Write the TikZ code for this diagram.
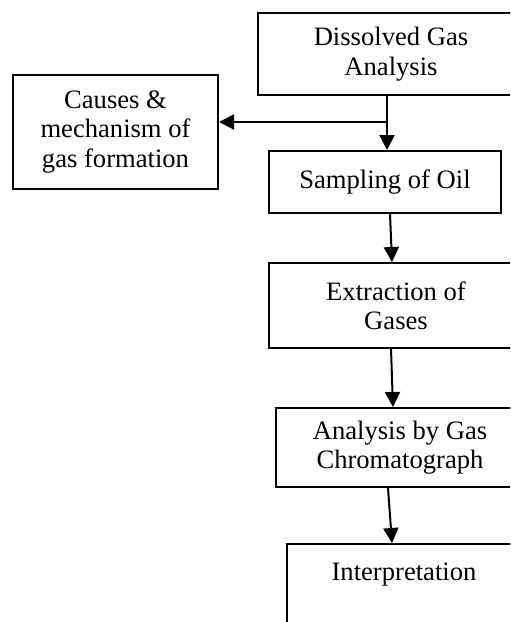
\documentclass[tikz,border=0pt]{standalone}
\usepackage{fontspec}
\setmainfont{Liberation Serif}
\usetikzlibrary{arrows.meta,positioning,calc}
\tikzset{
  bloc/.style={rectangle, draw=black, line width=1pt, align=center,
               font=\fontsize{13.3pt}{14.7pt}\selectfont, inner sep=0pt},
  arr/.style={-{Triangle[length=7.5pt,width=7.5pt]}, line width=1pt},
}

\begin{document}
\begin{tikzpicture}[x=0.5pt,y=-0.5pt]
    \useasboundingbox (0,0) rectangle (510,622);
    \clip (0,0) rectangle (510,622);
    \node[bloc, minimum width=133pt, minimum height=41pt] (dga) at (391,54) {Dissolved Gas\\Analysis};
    \node[bloc, minimum width=102.5pt, minimum height=57pt] (causes) at (115.5,132) {Causes \&\\mechanism of\\gas formation};
    \node[bloc, minimum width=116pt, minimum height=31pt] (samp) at (385,182) {Sampling of Oil};
    \node[bloc, minimum width=127pt, minimum height=42.5pt] (extr) at (396,305.5) {Extraction of\\Gases};
    \node[bloc, minimum width=124pt, minimum height=39.5pt] (anal) at (400,447.5) {Analysis by Gas\\Chromatograph};
    \node[bloc, minimum width=117pt, text height=18pt, text depth=45pt, anchor=north] (interp) at (404,543) {Interpretation};
    \coordinate (branch) at (387,122);
    \draw[arr] ([xshift=-2pt]dga.south) -- ([xshift=1pt]samp.north);
    \draw[arr] (branch) -- (branch -| causes.east);
    \draw[arr] ([xshift=2.5pt]samp.south) -- ([xshift=-2pt]extr.north);
    \draw[arr] ([xshift=-2.5pt]extr.south) -- ([xshift=-3.5pt]anal.north);
    \draw[arr] ([xshift=-6pt]anal.south) -- ([xshift=-6pt]interp.north);
  \end{tikzpicture}
\end{document}
